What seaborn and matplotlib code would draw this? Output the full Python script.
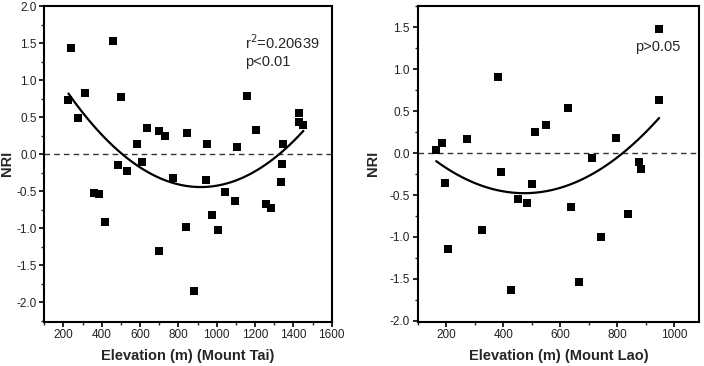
import numpy as np
import pandas as pd
import matplotlib
matplotlib.use("Agg")
import matplotlib.pyplot as plt
from matplotlib.ticker import MultipleLocator
import seaborn as sns

# ---- data ----
tai_elev = [226, 240, 275, 315, 456, 501, 485, 534, 583, 609, 638, 697, 729, 770,
            845, 948, 944, 1106, 1160, 1207, 1344, 1341, 1336, 1431, 1431, 1452,
            357, 384, 416, 701, 840, 883, 976, 1007, 1042, 1096, 1256, 1285]
tai_nri = [0.73, 1.44, 0.49, 0.82, 1.53, 0.77, -0.14, -0.23, 0.135, -0.10, 0.35, 0.32,
           0.24, -0.32, 0.29, 0.135, -0.35, 0.095, 0.79, 0.33, 0.14, -0.13, -0.37,
           0.56, 0.44, 0.39, -0.52, -0.53, -0.91, -1.31, -0.98, -1.84, -0.82, -1.02,
           -0.51, -0.63, -0.67, -0.72]

lao_elev = [165, 187, 273, 381, 391, 513, 549, 628, 713, 795, 875, 883, 946, 947,
            195, 206, 327, 426, 452, 482, 501, 637, 665, 742, 838]
lao_nri = [0.04, 0.12, 0.17, 0.91, -0.22, 0.25, 0.34, 0.54, -0.055, 0.18, -0.11,
           -0.185, 1.48, 0.63, -0.354, -1.14, -0.915, -1.626, -0.545, -0.60, -0.374,
           -0.64, -1.54, -1.00, -0.72]

xlabels = ["Elevation (m) (Mount Tai)", "Elevation (m) (Mount Lao)"]
ylabel = "NRI"
notes = [["r$^2$=0.20639", "p<0.01"], ["p>0.05"]]

sns.set_style("white")
plt.rcParams["font.family"] = ["Liberation Sans", "DejaVu Sans"]
plt.rcParams["axes.unicode_minus"] = False

fig = plt.figure(figsize=(7.04, 3.66), dpi=100)
ax1 = fig.add_axes([0.0629, 0.1210, 0.4083, 0.8626])
ax2 = fig.add_axes([0.5933, 0.1210, 0.4000, 0.8626])

df1 = pd.DataFrame({"elev": tai_elev, "nri": tai_nri})
df2 = pd.DataFrame({"elev": lao_elev, "nri": lao_nri})

for ax, df in [(ax1, df1), (ax2, df2)]:
    ax.axhline(0, color="#333333", lw=1.0, ls=(0, (4, 3)), zorder=1)
    sns.regplot(data=df, x="elev", y="nri", order=2, ci=None, ax=ax, marker="s",
                scatter_kws=dict(s=27, color="black", alpha=1, linewidths=0, zorder=3),
                line_kws=dict(color="black", lw=1.6, zorder=2))

ax1.set_xlim(100, 1600)
ax1.set_ylim(-2.26, 2.0)
ax1.set_xticks(np.arange(200, 1601, 200))
ax1.xaxis.set_minor_locator(MultipleLocator(100))
ax1.yaxis.set_major_locator(MultipleLocator(0.5))
ax1.yaxis.set_minor_locator(MultipleLocator(0.25))

ax2.set_xlim(100, 1088)
ax2.set_ylim(-2.01, 1.754)
ax2.set_xticks(np.arange(200, 1001, 200))
ax2.xaxis.set_minor_locator(MultipleLocator(100))
ax2.set_yticks(np.arange(-2.0, 1.51, 0.5))
ax2.yaxis.set_minor_locator(MultipleLocator(0.25))

for ax, xl in [(ax1, xlabels[0]), (ax2, xlabels[1])]:
    for sp in ax.spines.values():
        sp.set_visible(True)
        sp.set_linewidth(1.5)
        sp.set_color("black")
    ax.tick_params(which="major", direction="out", length=3.5, width=1.2,
                   labelsize=8.5, pad=2, colors="black", labelcolor="#222222",
                   bottom=True, left=True, top=False, right=False)
    ax.tick_params(which="minor", direction="out", length=2, width=1.0,
                   bottom=True, left=True, top=False, right=False)
    ax.yaxis.set_major_formatter(matplotlib.ticker.FormatStrFormatter("%.1f"))
    ax.set_xlabel(xl, fontsize=10.5, fontweight="bold")
    ax.set_ylabel(ylabel, fontsize=10.5, fontweight="bold")

ax1.xaxis.set_label_coords(0.5, -0.085)
ax2.xaxis.set_label_coords(0.5, -0.085)
ax1.yaxis.set_label_coords(-0.105, 0.5)
ax2.yaxis.set_label_coords(-0.135, 0.5)

ax1.text(1147, 1.50, notes[0][0], fontsize=10.5, va="center", ha="left")
ax1.text(1147, 1.25, notes[0][1], fontsize=10.5, va="center", ha="left")
ax2.text(863, 1.26, notes[1][0], fontsize=10.5, va="center", ha="left")

fig.savefig("out.png", dpi=100)
